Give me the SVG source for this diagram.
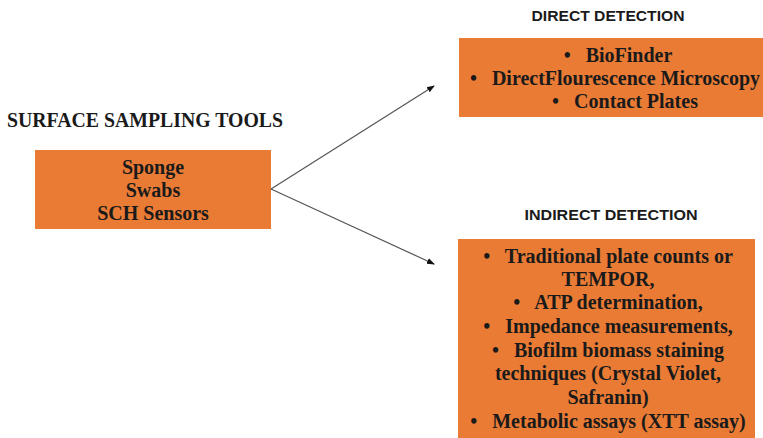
<svg xmlns="http://www.w3.org/2000/svg" width="763" height="438" viewBox="0 0 763 438">
<defs>
<marker id="ah" markerWidth="8" markerHeight="8" refX="7" refY="4" orient="auto" markerUnits="userSpaceOnUse">
<path d="M0,1 L8,4 L0,7 Z" fill="#111"/>
</marker>
<style>
.box{fill:#E97B35;}
.t{font-family:"Liberation Serif","Times New Roman",serif;font-weight:bold;font-size:20px;fill:#1a1a1a;text-anchor:middle;}
.h{font-family:"Liberation Sans",Arial,sans-serif;font-weight:bold;font-size:15px;fill:#1a1a1a;text-anchor:middle;}
.c{stroke:#555;stroke-width:1.2;fill:none;}
</style>
</defs>
<rect width="763" height="438" fill="#fff"/>
<g id="source">
<text x="145" y="127" class="t" textLength="276" lengthAdjust="spacingAndGlyphs">SURFACE SAMPLING TOOLS</text>
<rect x="35" y="150" width="236" height="79" class="box"/>
<text x="153" y="174" class="t">Sponge</text>
<text x="153" y="197" class="t">Swabs</text>
<text x="153" y="220" class="t">SCH Sensors</text>
</g>
<g id="direct">
<text x="608" y="21" class="h" textLength="153" lengthAdjust="spacingAndGlyphs">DIRECT DETECTION</text>
<rect x="459" y="38" width="310" height="79" class="box"/>
<text x="618" y="62" class="t" xml:space="preserve">•   BioFinder</text>
<text x="615" y="85" class="t" xml:space="preserve">•   DirectFlourescence Microscopy</text>
<text x="625" y="108" class="t" xml:space="preserve">•   Contact Plates</text>
</g>
<g id="indirect">
<text x="611" y="220" class="h" textLength="173" lengthAdjust="spacingAndGlyphs">INDIRECT DETECTION</text>
<rect x="458" y="239" width="297" height="205" class="box"/>
<text x="608" y="263" class="t" xml:space="preserve">•   Traditional plate counts or</text>
<text x="608" y="286" class="t">TEMPOR,</text>
<text x="608" y="309" class="t" xml:space="preserve">•   ATP determination,</text>
<text x="608" y="333" class="t" xml:space="preserve">•   Impedance measurements,</text>
<text x="608" y="357" class="t" xml:space="preserve">•   Biofilm biomass staining</text>
<text x="608" y="380" class="t">techniques (Crystal Violet,</text>
<text x="608" y="404" class="t">Safranin)</text>
<text x="608" y="428" class="t" xml:space="preserve">•   Metabolic assays (XTT assay)</text>
</g>
<g id="connectors">
<line x1="271" y1="189" x2="434" y2="86" class="c" marker-end="url(#ah)"/>
<line x1="271" y1="189" x2="434" y2="264" class="c" marker-end="url(#ah)"/>
</g>
</svg>
